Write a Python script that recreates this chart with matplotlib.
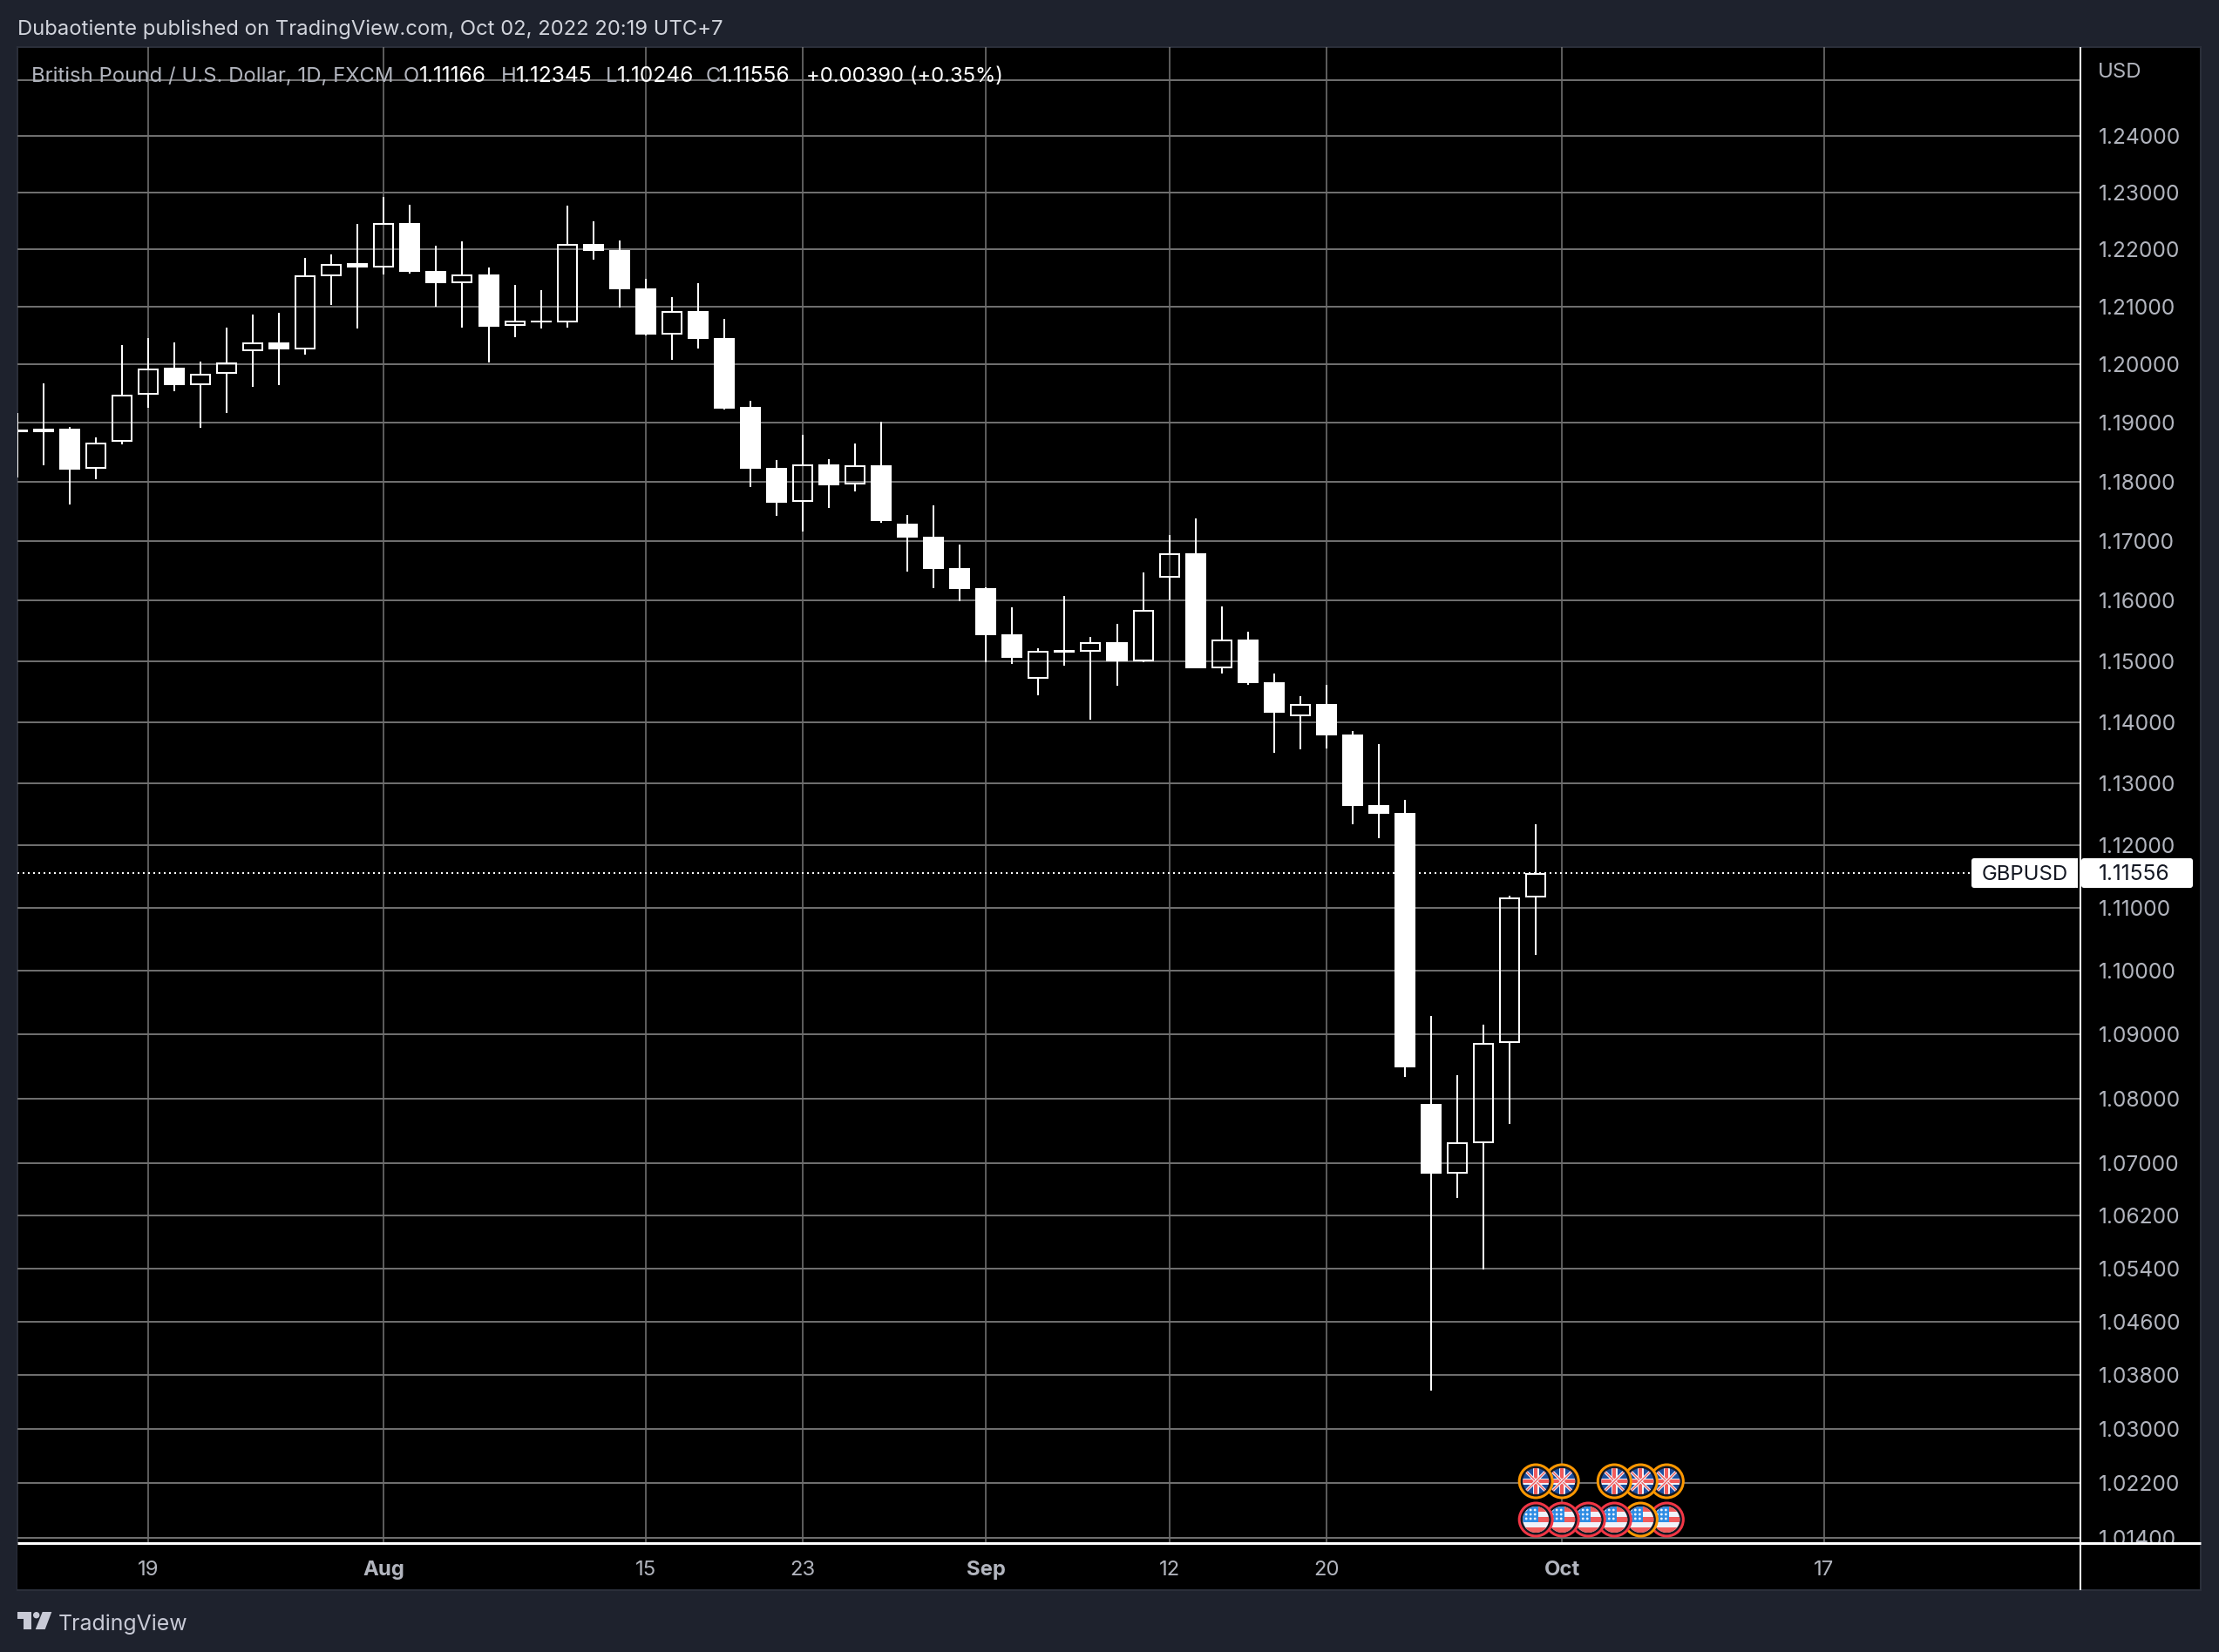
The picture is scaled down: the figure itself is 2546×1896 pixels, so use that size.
# GBPUSD daily candles, TradingView dark export look
import numpy
import matplotlib
matplotlib.use('Agg')
import matplotlib.pyplot as plt
from matplotlib.patches import Rectangle, Circle, Polygon, FancyBboxPatch

plt.rcParams['font.family'] = ['Inter', 'DejaVu Sans']

# Bars counted from 19 Jul, trading days only
bars = numpy.arange(-5, 54)
opens = [1.18886, 1.18896, 1.18896, 1.18214, 1.18677, 1.19483, 1.19940, 1.19647, 1.19841, 1.20229,
         1.20388, 1.20254, 1.21535, 1.21758, 1.21687, 1.22462, 1.21621, 1.21409, 1.21561, 1.20662,
         1.20761, 1.20731, 1.22092, 1.21985, 1.21318, 1.20522, 1.20920, 1.20458, 1.19269, 1.18239,
         1.17652, 1.18299, 1.17946, 1.18284, 1.17294, 1.17074, 1.16551, 1.16217, 1.15450, 1.14705,
         1.15188, 1.15159, 1.15319, 1.15000, 1.16391, 1.16797, 1.14886, 1.15362, 1.14657, 1.14090,
         1.14300, 1.13800, 1.12648, 1.12521, 1.07919, 1.06844, 1.07311, 1.08874, 1.11166]
highs = [1.19164, 1.19672, 1.18925, 1.18746, 1.20343, 1.20463, 1.20388, 1.20045, 1.20642, 1.20866,
         1.20896, 1.21848, 1.21909, 1.22446, 1.22923, 1.22785, 1.22062, 1.22138, 1.21682, 1.21374,
         1.21283, 1.22769, 1.22492, 1.22154, 1.21485, 1.21164, 1.21413, 1.20786, 1.19373, 1.18373,
         1.18791, 1.18388, 1.18642, 1.19015, 1.17441, 1.17603, 1.16942, 1.16232, 1.15884, 1.15217,
         1.16087, 1.15406, 1.15609, 1.16478, 1.17101, 1.17382, 1.15899, 1.15493, 1.14800, 1.14429,
         1.14614, 1.13857, 1.13638, 1.12732, 1.09297, 1.08365, 1.09149, 1.11194, 1.12345]
lows = [1.18075, 1.18274, 1.17608, 1.18045, 1.18627, 1.19254, 1.19537, 1.18910, 1.19164, 1.19612,
        1.19642, 1.20164, 1.21030, 1.20627, 1.21561, 1.21576, 1.21000, 1.20642, 1.20030, 1.20478,
        1.20627, 1.20642, 1.21818, 1.20985, 1.20507, 1.20075, 1.20279, 1.19234, 1.17912, 1.17426,
        1.17162, 1.17559, 1.17838, 1.17309, 1.16493, 1.16217, 1.15986, 1.14986, 1.14957, 1.14443,
        1.14929, 1.14043, 1.14600, 1.14986, 1.16014, 1.14886, 1.14800, 1.14614, 1.13500, 1.13557,
        1.13571, 1.12338, 1.12113, 1.08338, 1.03564, 1.06467, 1.05387, 1.07608, 1.10246]
closes = [1.18841, 1.18841, 1.18209, 1.18667, 1.19488, 1.19935, 1.19642, 1.19846, 1.20040, 1.20383,
          1.20254, 1.21540, 1.21747, 1.21682, 1.22456, 1.21606, 1.21409, 1.21561, 1.20657, 1.20761,
          1.20731, 1.22087, 1.21965, 1.21303, 1.20522, 1.20920, 1.20443, 1.19249, 1.18224, 1.17647,
          1.18294, 1.17941, 1.18279, 1.17338, 1.17059, 1.16536, 1.16203, 1.15435, 1.15058, 1.15169,
          1.15143, 1.15314, 1.15000, 1.15850, 1.16792, 1.14886, 1.15360, 1.14643, 1.14157, 1.14295,
          1.13786, 1.12634, 1.12507, 1.08486, 1.06840, 1.07320, 1.08874, 1.11162, 1.11556]

last_price = 1.11556
price_ticks = [1.25, 1.24, 1.23, 1.22, 1.21, 1.20, 1.19, 1.18, 1.17, 1.16, 1.15, 1.14, 1.13, 1.12,
               1.11, 1.10, 1.09, 1.08, 1.07, 1.062, 1.054, 1.046, 1.038, 1.03, 1.022, 1.014]
time_ticks = [0, 9, 19, 25, 32, 39, 45, 54, 64]
time_labels = ['19', 'Aug', '15', '23', 'Sep', '12', '20', 'Oct', '17']
month_labels = ['Aug', 'Sep', 'Oct']

# Economic event flags, bar and ring colour
gb_flag_bars = [53, 54, 56, 57, 58]
gb_flag_rings = ['orange'] * 5
us_flag_bars = [53, 54, 55, 56, 57, 58]
us_flag_rings = ['red', 'red', 'red', 'red', 'orange', 'red']

W, H = 2546, 1896
BG = '#1e222d'
BORDER = '#2a2e39'
TXT = '#b2b5be'
PX = 72.0 / 100  # one pixel in points
PX_PER_LOG = 7997.0
LEFT, RIGHT, AXR, TOP, BOT, BOT2 = 20, 2387, 2525, 54, 1770, 1825
FS = 17.2  # letters
FN = 17.7  # digits run a little wide in the original


def box(l, t, r, b):
    return [l / W, 1 - b / H, (r - l) / W, (b - t) / H]


fig = plt.figure(figsize=(W / 100, H / 100), dpi=100, facecolor=BG)

# Black panel under price and time axes
ax_bg = fig.add_axes(box(LEFT, TOP, AXR, BOT2), zorder=0, facecolor='black')
ax_bg.set_xticks([])
ax_bg.set_yticks([])
for s in ax_bg.spines.values():
    s.set_color(BORDER)
    s.set_linewidth(2 * PX)

ax = fig.add_axes(box(LEFT, TOP, RIGHT, BOT), zorder=1, facecolor='none')
ax.set_yscale('log')
ax.set_xlim(-4.9933, 73.80)
ax.set_ylim(1.01340, 1.25594)
ax.yaxis.set_minor_locator(matplotlib.ticker.NullLocator())
ax.set_yticks(price_ticks)
ax.set_yticklabels(['' if p == 1.25 else '%.5f' % p for p in price_ticks])
ax.set_xticks(time_ticks)
ax.set_xticklabels([])
ax.tick_params(axis='both', length=0)
ax.tick_params(axis='y', which='both', left=False, right=False, labelleft=False, labelright=True,
               labelsize=FN, labelcolor=TXT, pad=21 * PX)
ax.grid(True, axis='y', color='#6e6e6e', linewidth=2 * PX)
ax.grid(True, axis='x', color='#7a7a7a', linewidth=1.5 * PX)
ax.set_axisbelow(True)
for s in ax.spines.values():
    s.set_visible(False)

# Candles: down bars filled, up bars hollow, wicks stop at the body
o = numpy.array(opens)
c = numpy.array(closes)
hi = numpy.array(highs)
lo = numpy.array(lows)
top = numpy.maximum(o, c)
bot = numpy.minimum(o, c)
down = c < o
ax.vlines(bars, top, hi, color='white', linewidth=2 * PX, zorder=3)
ax.vlines(bars, lo, bot, color='white', linewidth=2 * PX, zorder=3)
ax.bar(bars[down], top[down] - bot[down], bottom=bot[down], width=0.8,
       color='white', linewidth=0, zorder=4)
inset = numpy.exp(1.0 / PX_PER_LOG)
ax.bar(bars[~down], top[~down] / inset - bot[~down] * inset, bottom=bot[~down] * inset,
       width=22 / 30.04, facecolor='none', edgecolor='white', linewidth=2 * PX, zorder=4)

# Last price line
ax.axhline(last_price, color='white', linewidth=2 * PX, linestyle=(0, (1, 2)), zorder=2,
           xmax=(2262.0 - LEFT) / (RIGHT - LEFT))

# Time scale strip
ax_t = fig.add_axes(box(LEFT, BOT + 1, RIGHT, BOT2 - 1), zorder=2, facecolor='black')
ax_t.set_xlim(ax.get_xlim())
ax_t.set_xticks([])
ax_t.set_yticks([])
for s in ax_t.spines.values():
    s.set_visible(False)
for xt, lab in zip(time_ticks, time_labels):
    ax_t.text(xt, 0.47, lab, ha='center', va='center_baseline', fontsize=FS, color=TXT,
              fontweight='bold' if lab in month_labels else 'normal',
              transform=ax_t.get_xaxis_transform())

# Overlay in image pixels for chrome and labels
ov = fig.add_axes([0, 0, 1, 1], zorder=3, facecolor='none')
ov.set_xlim(0, W)
ov.set_ylim(H, 0)
ov.axis('off')

ov.add_patch(Rectangle((RIGHT + 1, BOT + 1), AXR - RIGHT - 2, BOT2 - BOT - 2, color='black', lw=0))
ov.plot([LEFT, AXR], [1771, 1771], color='white', lw=3 * PX, solid_capstyle='butt')
ov.plot([RIGHT, RIGHT], [TOP, BOT2], color='white', lw=2 * PX, solid_capstyle='butt')

ov.text(20, 31, 'Dubaotiente published on TradingView.com, Oct 02, 2022 20:19 UTC+7',
        fontsize=17.15, color='#d1d4dc', va='center_baseline')

# Legend line, pieces placed one by one
for xp, s, col, fs in [(36, 'British Pound / U.S. Dollar, 1D, FXCM', TXT, FS),
                       (463, 'O', TXT, FS), (481, '1.11166', 'white', FN),
                       (575, 'H', TXT, FS), (592, '1.12345', 'white', FN),
                       (695, 'L', TXT, FS), (708, '1.10246', 'white', FN),
                       (810, 'C', TXT, FS), (825, '1.11556', 'white', FN),
                       (925, '+0.00390 (+0.35%)', 'white', FS)]:
    ov.text(xp, 85, s, fontsize=fs, color=col, va='center_baseline')

ov.text(2407, 80, 'USD', fontsize=FS, color=TXT, va='center_baseline')

# Symbol and last price tags
ov.add_patch(FancyBboxPatch((2264, 987), 118, 30, boxstyle='round,pad=2,rounding_size=3', color='white', lw=0))
ov.add_patch(FancyBboxPatch((2390, 987), 124, 30, boxstyle='round,pad=2,rounding_size=3', color='white', lw=0))
ov.add_patch(Rectangle((2382, 985), 6, 34, color='white', lw=0))
ov.plot([2385, 2385], [985, 1019], color='black', lw=2 * PX, solid_capstyle='butt')
ov.plot([RIGHT, RIGHT], [985, 1019], color='white', lw=2 * PX, solid_capstyle='butt')
ov.text(2274, 1001, 'GBPUSD', fontsize=FS, color='#131722', va='center_baseline')
ov.text(2408, 1001, '%.5f' % last_price, fontsize=FN, color='#131722', va='center_baseline')

# TradingView mark
LOGO = '#c8cad6'
ov.add_patch(Polygon([(20, 1850), (35.7, 1850), (35.7, 1870), (27.3, 1870), (27.3, 1858.3), (20, 1858.3)],
                     color=LOGO, lw=0))
ov.add_patch(Circle((41.7, 1853.7), 3.7, color=LOGO, lw=0))
ov.add_patch(Polygon([(48.7, 1850), (59.3, 1850), (51.7, 1870), (40.7, 1870)], color=LOGO, lw=0))
ov.text(67, 1862, 'TradingView', fontsize=17.9, color=LOGO, va='center_baseline')

RING = {'orange': '#ff9800', 'red': '#f23645'}
FRED = '#f15b5b'
FWHITE = '#f0f2fa'


def draw_flag(px, py, ring, kind):
    ov.add_patch(Circle((px, py), 20.5, color=RING[ring], lw=0))
    ov.add_patch(Circle((px, py), 17.5, color='#131722', lw=0))
    face = Circle((px, py), 15, color='#1c4f9f' if kind == 'gb' else FWHITE, lw=0)
    ov.add_patch(face)
    parts = []
    if kind == 'gb':
        for dx, dy in [(1, 1), (1, -1)]:
            parts += ov.plot([px - 15 * dx, px + 15 * dx], [py - 15 * dy, py + 15 * dy],
                             color=FWHITE, lw=3.5 * PX, solid_capstyle='butt')
            parts += ov.plot([px - 15 * dx, px + 15 * dx], [py - 15 * dy, py + 15 * dy],
                             color=FRED, lw=1.3 * PX, solid_capstyle='butt')
        for col, wid in [(FWHITE, 7), (FRED, 4)]:
            parts.append(ov.add_patch(Rectangle((px - 16, py - wid / 2), 32, wid, color=col, lw=0)))
            parts.append(ov.add_patch(Rectangle((px - wid / 2, py - 16), wid, 32, color=col, lw=0)))
    else:
        for k in [0, 2, 4]:
            parts.append(ov.add_patch(Rectangle((px - 16, py - 15 + k * 6), 32, 6, color=FRED, lw=0)))
        parts.append(ov.add_patch(Rectangle((px - 16, py - 16), 19, 19, color='#2f8de4', lw=0)))
        for dx in [-11, -6, -1]:
            for dy in [-11, -6, -1]:
                parts.append(ov.add_patch(Circle((px + dx, py + dy), 1.4, color=FWHITE, lw=0)))
    for p in parts:
        p.set_clip_path(face)


# Left flag sits on top, so draw right to left
for flag_bars, rings, kind, py in [(gb_flag_bars, gb_flag_rings, 'gb', 1700),
                                   (us_flag_bars, us_flag_rings, 'us', 1744)]:
    for b, r in zip(flag_bars[::-1], rings[::-1]):
        px = ax.transData.transform((b, 1.1))[0]
        draw_flag(px, py, r, kind)

ov.set_xlim(0, W)
ov.set_ylim(H, 0)

fig.savefig('out.png', dpi=100, facecolor=BG)
